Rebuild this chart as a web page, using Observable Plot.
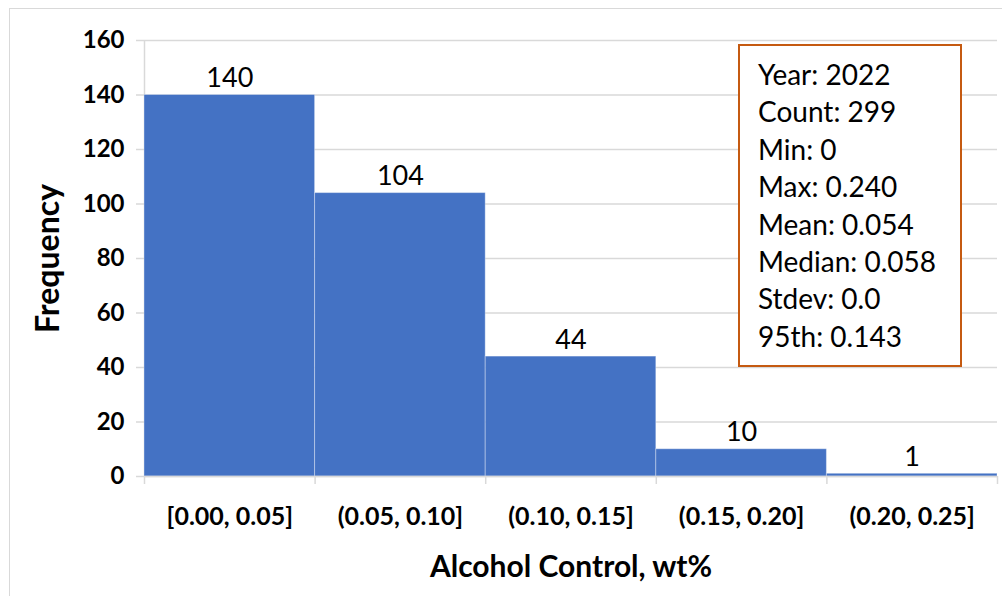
<!DOCTYPE html>
<html>
<head>
<meta charset="utf-8">
<script src="https://cdn.jsdelivr.net/npm/d3@7"></script>
<script src="https://cdn.jsdelivr.net/npm/@observablehq/plot@0.6"></script>
<style>
  html, body { margin: 0; padding: 0; background: #fff; }
  #wrap { position: relative; width: 1002px; height: 596px; overflow: hidden; font-family: Lato, "Open Sans", sans-serif; }
  #frame { position: absolute; left: 9px; top: 8px; width: 1000px; height: 600px; border: 1px solid #d9d9d9; box-sizing: border-box; }
  #stats { position: absolute; left: 738px; top: 44px; width: 224px; height: 323px; border: 2px solid #c55a11; box-sizing: border-box; background: #fff; padding: 10px 0 0 18px; font-size: 28px; line-height: 37.4px; color: #000; white-space: nowrap; }
  svg { position: absolute; left: 0; top: 0; }
</style>
</head>
<body>
<div id="wrap"><div id="frame"></div></div>
<script>
const binLo = [0.00, 0.05, 0.10, 0.15, 0.20];
const binHi = [0.05, 0.10, 0.15, 0.20, 0.25];
const binLabels = ["[0.00, 0.05]", "(0.05, 0.10]", "(0.10, 0.15]", "(0.15, 0.20]", "(0.20, 0.25]"];
const counts = [140, 104, 44, 10, 1];
const yTicks = [0, 20, 40, 60, 80, 100, 120, 140, 160];
const edges = [0.00, 0.05, 0.10, 0.15, 0.20, 0.25];
const statsLines = ["Year: 2022", "Count: 299", "Min: 0", "Max: 0.240", "Mean: 0.054", "Median: 0.058", "Stdev: 0.0", "95th: 0.143"];
const xTitle = "Alcohol Control, wt%";
const yTitle = "Frequency";

const bins = binLo.map((lo, i) => ({lo, hi: binHi[i], mid: (lo + binHi[i]) / 2, label: binLabels[i], count: counts[i]}));

const font = "Lato, 'Open Sans', sans-serif";
const chart = Plot.plot({
  width: 1002,
  height: 596,
  marginLeft: 144,
  marginRight: 5,
  marginTop: 40,
  marginBottom: 120,
  style: {fontFamily: font, background: "transparent", overflow: "visible"},
  x: {type: "linear", domain: [0, 0.25], axis: null},
  y: {type: "linear", domain: [0, 160], axis: null},
  marks: [
    Plot.gridY(yTicks, {stroke: "#d9d9d9", strokeOpacity: 1, strokeWidth: 1.5}),
    Plot.ruleX([0], {stroke: "#d9d9d9", strokeWidth: 1.5}),
    Plot.rectY(bins, {x1: "lo", x2: "hi", y1: 0, y2: "count", fill: "#4472c4", stroke: "#ffffff", strokeOpacity: 0.35, strokeWidth: 1}),
    Plot.ruleY([0], {stroke: "#d9d9d9", strokeWidth: 1.5}),
    Plot.axisY(yTicks, {tickSize: 8, tickPadding: 12, stroke: "#d9d9d9", strokeWidth: 1.5, label: null, fontSize: 24, fontWeight: "bold", fill: "#000"}),
    Plot.axisX(edges, {tickSize: 8, tickFormat: () => "", stroke: "#d9d9d9", strokeWidth: 1.5, label: null}),
    Plot.text(bins, {x: "mid", y: 0, text: "label", dy: 40, fontSize: 25, fontWeight: "bold", fill: "#000"}),
    Plot.text(bins, {x: "mid", y: "count", text: d => String(d.count), dy: -8, lineAnchor: "bottom", fontSize: 27, fill: "#000"}),
    Plot.text([xTitle], {frameAnchor: "bottom", text: d => d, dy: 100, fontSize: 30, fontWeight: "bold", fill: "#000"}),
    Plot.text([yTitle], {frameAnchor: "left", textAnchor: "middle", text: d => d, dx: -96, rotate: -90, fontSize: 32, fontWeight: "bold", fill: "#000"})
  ]
});
const wrap = document.getElementById("wrap");
wrap.appendChild(chart);
const box = document.createElement("div");
box.id = "stats";
box.innerHTML = statsLines.map(s => `<div>${s}</div>`).join("");
wrap.appendChild(box);
</script>
</body>
</html>
